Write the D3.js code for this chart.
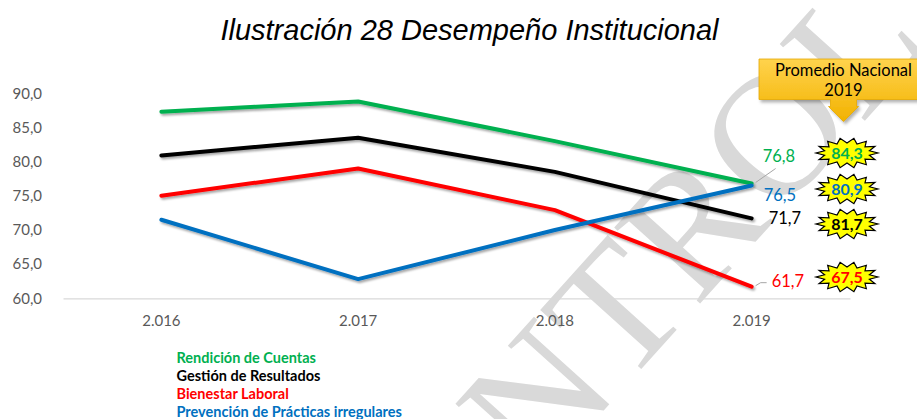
<!DOCTYPE html>
<html lang="es">
<head>
<meta charset="utf-8">
<script src="https://cdn.jsdelivr.net/npm/d3@7"></script>
<style>
  html, body { margin: 0; padding: 0; background: #fff; }
  svg { display: block; }
</style>
</head>
<body>
<svg id="chart" width="917" height="419"></svg>
<script>
// ---- data ----
const years = ["2.016", "2.017", "2.018", "2.019"];
const seriesNames = ["Rendición de Cuentas", "Gestión de Resultados", "Bienestar Laboral", "Prevención de Prácticas irregulares"];
const rendicion  = [87.3, 88.8, 83.0, 76.8];
const gestion    = [80.9, 83.5, 78.5, 71.7];
const bienestar  = [75.0, 79.0, 72.9, 61.7];
const prevencion = [71.5, 62.8, 70.0, 76.5];
// national averages, listed top to bottom as shown next to the end labels
const promedioNacional = [84.3, 80.9, 81.7, 67.5];
const yTicks = [60, 65, 70, 75, 80, 85, 90];
const colors = ["#00B050", "#000000", "#FF0000", "#0070C0"];
const badgeColors = ["#00B050", "#0070C0", "#000000", "#FF0000"];

const svg = d3.select("#chart");
const fmt = v => d3.format(".1f")(v).replace(".", ",");

// ---- watermark ----
svg.append("text")
  .attr("transform", "translate(372,668) rotate(-48)")
  .attr("font-family", "'Liberation Serif', 'DejaVu Serif', serif")
  .attr("font-size", 175)
  .attr("fill", "#d9d9d9")
  .attr("letter-spacing", 2)
  .text("CONTROLADA");

// ---- scales ----
const x = d3.scaleBand().domain(years).range([63, 850]);
const xc = d => x(d) + x.bandwidth() / 2;
const y = d3.scaleLinear().domain([60, 90]).range([298.3, 93.3]);

// ---- title ----
svg.append("text")
  .attr("x", 469.5).attr("y", 40)
  .attr("text-anchor", "middle")
  .attr("font-family", "'Liberation Sans', Arial, sans-serif")
  .attr("font-style", "italic")
  .attr("font-size", 29)
  .attr("fill", "#000")
  .text("Ilustración 28 Desempeño Institucional");

// ---- axes ----
const yAxis = d3.axisLeft(y).tickValues(yTicks).tickFormat(fmt).tickSize(0).tickPadding(0);
const gy = svg.append("g").attr("transform", "translate(42,0)").call(yAxis);
gy.select(".domain").remove();
gy.selectAll("text")
  .attr("font-family", "Lato, 'Open Sans', sans-serif")
  .attr("font-size", 15)
  .attr("fill", "#595959");

const xAxis = d3.axisBottom(x).tickSize(0).tickPadding(17);
const gx = svg.append("g").attr("transform", `translate(0,${y(60)})`).call(xAxis);
gx.select(".domain").attr("stroke", "#d9d9d9").attr("stroke-width", 1.3);
gx.selectAll("text")
  .attr("font-family", "Lato, 'Open Sans', sans-serif")
  .attr("font-size", 15)
  .attr("fill", "#595959");

// ---- lines ----
const defs = svg.append("defs");
const shadow = defs.append("filter").attr("id", "lineShadow")
  .attr("x", "-10%").attr("y", "-20%").attr("width", "120%").attr("height", "140%");
shadow.append("feDropShadow")
  .attr("dx", 1.5).attr("dy", 2).attr("stdDeviation", 1.3)
  .attr("flood-color", "#000").attr("flood-opacity", 0.35);

const allSeries = [rendicion, gestion, bienestar, prevencion];
const line = d3.line()
  .x((d, i) => xc(years[i]))
  .y(d => y(d));

svg.append("g").attr("filter", "url(#lineShadow)")
  .selectAll("path")
  .data(allSeries)
  .join("path")
  .attr("d", line)
  .attr("fill", "none")
  .attr("stroke", (d, i) => colors[i])
  .attr("stroke-width", 4)
  .attr("stroke-linejoin", "round")
  .attr("stroke-linecap", "round");

// ---- end labels (2019) ----
const last = years.length - 1;
const xEnd = xc(years[last]);
const labelOffsets = [[11, -27], [17, 0], [20, -5], [12, 10]];
const labelY = allSeries.map((s, i) => y(s[last]) + labelOffsets[i][1]);

// leader lines
svg.append("path")
  .attr("d", `M${xEnd + 4},${y(rendicion[last]) - 1} L${xEnd + 24},${labelY[0] + 12}`)
  .attr("stroke", "#a6a6a6").attr("stroke-width", 1).attr("fill", "none");
svg.append("path")
  .attr("d", `M${xEnd + 4},${y(bienestar[last]) - 1} L${xEnd + 9},${labelY[2] + 1} L${xEnd + 15},${labelY[2] + 1}`)
  .attr("stroke", "#a6a6a6").attr("stroke-width", 1).attr("fill", "none");

svg.append("g").selectAll("text")
  .data(allSeries)
  .join("text")
  .attr("x", (d, i) => xEnd + labelOffsets[i][0])
  .attr("y", (d, i) => labelY[i])
  .attr("dy", "0.35em")
  .attr("font-family", "Lato, 'Open Sans', sans-serif")
  .attr("font-size", 16.5)
  .attr("fill", (d, i) => colors[i])
  .text(d => fmt(d[last]));

// ---- callout "Promedio Nacional 2019" ----
const grad = defs.append("linearGradient").attr("id", "gold").attr("x1", 0).attr("y1", 0).attr("x2", 0).attr("y2", 1);
grad.append("stop").attr("offset", "0%").attr("stop-color", "#FFD34D");
grad.append("stop").attr("offset", "100%").attr("stop-color", "#F2B200");
const calloutShadow = defs.append("filter").attr("id", "boxShadow")
  .attr("x", "-20%").attr("y", "-20%").attr("width", "150%").attr("height", "150%");
calloutShadow.append("feDropShadow")
  .attr("dx", 2).attr("dy", 2.5).attr("stdDeviation", 1.5)
  .attr("flood-color", "#000").attr("flood-opacity", 0.3);

const cx0 = 759, cx1 = 925, cy0 = 59, cy1 = 99.5, ax = 843.5;
svg.append("path")
  .attr("d", `M${cx0},${cy0} H${cx1} V${cy1} H${ax + 13} V${cy1 + 7} H${ax + 15} L${ax},${cy1 + 22} L${ax - 15},${cy1 + 7} H${ax - 13} V${cy1} H${cx0} Z`)
  .attr("fill", "url(#gold)")
  .attr("stroke", "#E6A800").attr("stroke-width", 0.8)
  .attr("filter", "url(#boxShadow)");

svg.append("text")
  .attr("x", ax).attr("y", 76)
  .attr("text-anchor", "middle")
  .attr("font-family", "Lato, 'Open Sans', sans-serif")
  .attr("font-size", 16.5)
  .attr("fill", "#000")
  .text("Promedio Nacional");
svg.append("text")
  .attr("x", ax).attr("y", 96)
  .attr("text-anchor", "middle")
  .attr("font-family", "Lato, 'Open Sans', sans-serif")
  .attr("font-size", 16.5)
  .attr("fill", "#000")
  .text("2019");

// ---- starburst badges ----
const starY = [153, 189, 224, 277];
const starX = 847;
function starburst(cx, cy) {
  const n = 14, pts = [];
  for (let k = 0; k < n * 2; k++) {
    const a = (Math.PI * k) / n;
    const outer = k % 2 === 0;
    const rx = outer ? 31 : 23, ry = outer ? 15 : 10;
    pts.push([cx + rx * Math.cos(a), cy + ry * Math.sin(a)]);
  }
  return d3.line()(pts) + "Z";
}
const badges = svg.append("g");
badges.selectAll("path")
  .data(promedioNacional)
  .join("path")
  .attr("d", (d, i) => starburst(starX, starY[i]))
  .attr("fill", "#FFFF00")
  .attr("stroke", "#000").attr("stroke-width", 1.2)
  .attr("stroke-linejoin", "miter");
badges.selectAll("text")
  .data(promedioNacional)
  .join("text")
  .attr("x", starX).attr("y", (d, i) => starY[i])
  .attr("dy", "0.36em")
  .attr("text-anchor", "middle")
  .attr("font-family", "Lato, 'Open Sans', sans-serif")
  .attr("font-weight", "bold")
  .attr("font-size", 16)
  .attr("fill", (d, i) => badgeColors[i])
  .text(d => fmt(d));

// ---- legend ----
svg.append("g").selectAll("text")
  .data(seriesNames)
  .join("text")
  .attr("x", 176.5)
  .attr("y", (d, i) => 358 + i * 18)
  .attr("dy", "0.35em")
  .attr("font-family", "Lato, 'Open Sans', sans-serif")
  .attr("font-weight", "bold")
  .attr("font-size", 14.5)
  .attr("fill", (d, i) => colors[i])
  .text(d => d);
</script>
</body>
</html>
